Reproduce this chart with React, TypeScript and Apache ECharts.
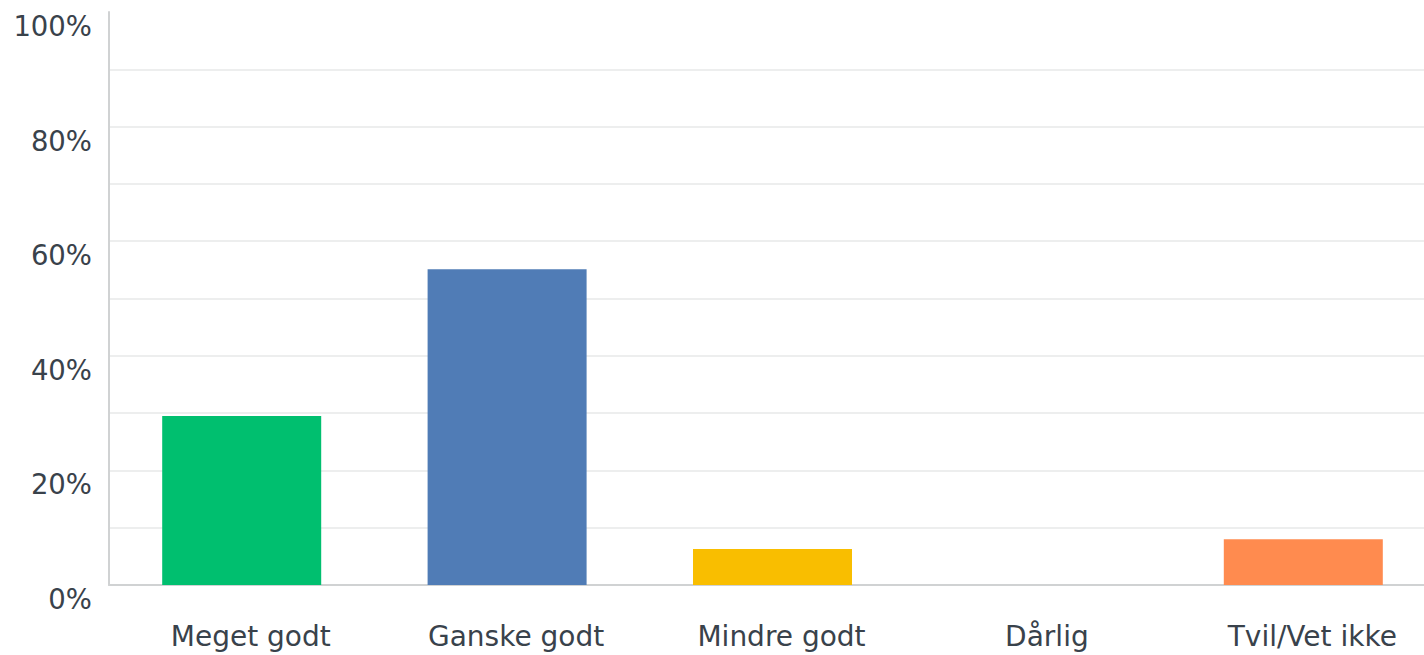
import React, { useEffect, useRef } from "react";
import * as echarts from "echarts";

const categories = ["Meget godt", "Ganske godt", "Mindre godt", "Dårlig", "Tvil/Vet ikke"];
const values = [29.5, 55.1, 6.3, 0, 8.0];
const barColors = ["#00BF6F", "#507CB6", "#F9BE00", "#FFFFFF", "#FF8B4F"];
const yTickLabels = ["0%", "20%", "40%", "60%", "80%", "100%"];

export default function App() {
  const ref = useRef<HTMLDivElement>(null);
  useEffect(() => {
    if (!ref.current) return;
    const chart = echarts.init(ref.current, undefined, { renderer: "svg" });
    const gridColors = Array.from({ length: 11 }, (_, i) => (i === 10 ? "rgba(0,0,0,0)" : "#EDEEEE"));
    chart.setOption({
      animation: false,
      grid: { left: 109, right: 4, top: 12, bottom: 70, containLabel: false },
      xAxis: {
        type: "category",
        data: categories,
        axisLine: { show: true, lineStyle: { color: "#D0D2D3", width: 2 } },
        axisTick: { show: false },
        axisLabel: {
          color: "#39424B",
          fontFamily: "DejaVu Sans",
          fontSize: 28,
          margin: 37,
          padding: [0, 0, 0, 18],
        },
      },
      yAxis: {
        type: "value",
        min: 0,
        max: 100,
        interval: 10,
        axisLine: { show: true, lineStyle: { color: "#D0D2D3", width: 2 } },
        axisTick: { show: false },
        splitLine: { show: true, lineStyle: { color: gridColors, width: 2 } },
        axisLabel: {
          color: "#39424B",
          fontFamily: "DejaVu Sans",
          fontSize: 27.5,
          margin: 17,
          verticalAlign: "top",
          formatter: (v: number) => {
            if (v % 20 !== 0) return "";
            return yTickLabels[v / 20];
          },
        },
      },
      series: [
        {
          type: "bar",
          barWidth: 159,
          data: values.map((v, i) => ({ value: v, itemStyle: { color: barColors[i] } })),
        },
      ],
    });
    return () => chart.dispose();
  }, []);
  return (
    <div style={{ position: "fixed", left: 0, top: 0, width: 1424, height: 655, overflow: "hidden", background: "#fff" }}>
      <div ref={ref} style={{ width: 1440, height: 655 }} />
    </div>
  );
}
